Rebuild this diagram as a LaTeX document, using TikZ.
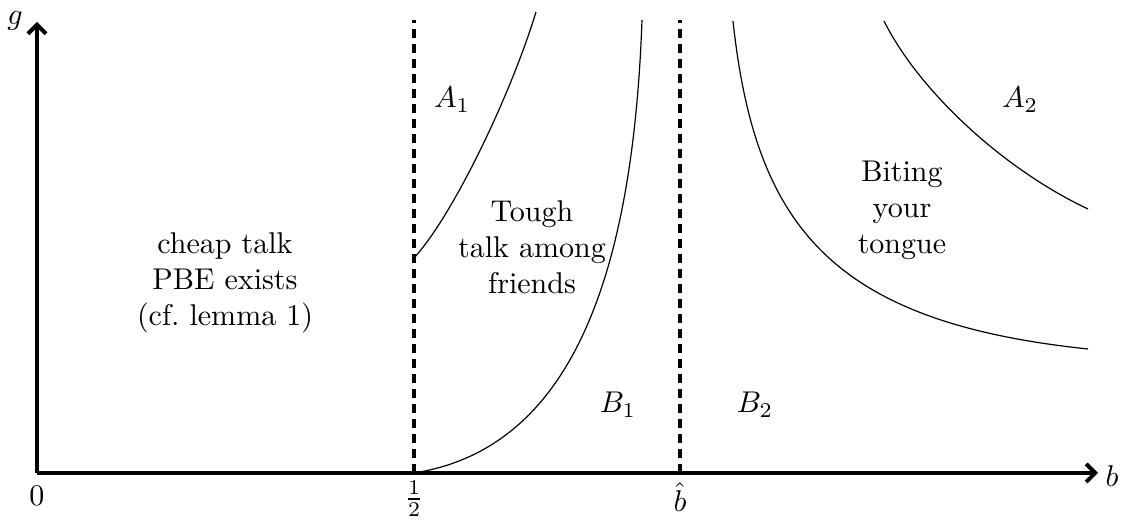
\documentclass[tikz,border=0pt]{standalone}
\usetikzlibrary{arrows.meta}
\begin{document}
\begin{tikzpicture}[x=0.333pt,y=-0.333pt,
  axis/.style={line width=1.3pt,-{Straight Barb[length=3pt,width=6pt,line width=1.3pt]}},
  divider/.style={line width=1.1pt,dash pattern=on 3pt off 2pt},
  boundary/.style={line width=0.4pt},
  lbl/.style={inner sep=1pt},
  region/.style={align=center,inner sep=0pt}]
\useasboundingbox (0,0) rectangle (1124,523);
\coordinate (O) at (37,473);
\coordinate (ytop) at (37,22);
\coordinate (xend) at (1098,473);
\coordinate (h0) at (414,473);
\coordinate (h1) at (414,20);
\coordinate (bh0) at (680,473);
\coordinate (bh1) at (680,20);
\draw[divider] (h0) -- (h1);
\draw[divider] (bh0) -- (bh1);
\draw[axis] (O) -- (ytop);
\draw[axis] (O) -- (xend);
\node[lbl] (g) at (15,21) {$g$};
\node[lbl] (b) at (1112,476) {$b$};
\node[lbl] (zero) at (37,496) {$0$};
\node[lbl] (half) at (414,499) {$\frac{1}{2}$};
\node[lbl] (bhat) at (680,497) {$\hat{b}$};
% boundaries
\draw[boundary] (414,258) .. controls (454,214) and (511,94) .. (536,12);
\draw[boundary] (414,473) .. controls (560,450) and (632,300) .. (642,20);
\draw[boundary] (733,21) .. controls (755,225) and (830,322) .. (1088,349);
\draw[boundary] (884,21) .. controls (919,91) and (1003,169) .. (1088,209);
% labels
\node[lbl] (A1) at (452,100) {$A_1$};
\node[lbl] (A2) at (1020,100) {$A_2$};
\node[lbl] (B1) at (618,405) {$B_1$};
\node[lbl] (B2) at (755,405) {$B_2$};
\node[region] (cheap) at (225,283) {cheap talk\\PBE exists\\(cf.\ lemma 1)};
\node[region] (tough) at (532,247) {Tough\\talk among\\friends};
\node[region] (biting) at (902,210) {Biting\\your\\tongue};
\end{tikzpicture}
\end{document}
